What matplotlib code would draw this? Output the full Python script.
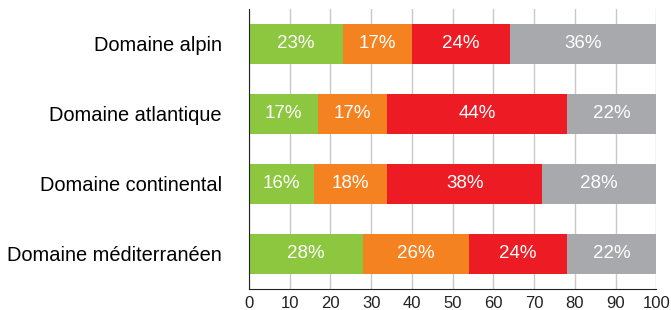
import matplotlib.pyplot as plt
import numpy as np

plt.rcParams['font.family'] = ['Liberation Sans', 'DejaVu Sans']

domaines = ["Domaine alpin", "Domaine atlantique", "Domaine continental", "Domaine méditerranéen"]
vert = [23, 17, 16, 28]
orange = [17, 17, 18, 26]
rouge = [24, 44, 38, 24]
gris = [36, 22, 28, 22]

series = [vert, orange, rouge, gris]
colors = ["#8DC63F", "#F58220", "#ED1C24", "#A7A9AC"]

fig = plt.figure(figsize=(6.71, 3.10), dpi=100)
ax = fig.add_axes([0.371, 0.068, 0.607, 0.903])

y = np.arange(len(domaines))
left = np.zeros(len(domaines))
for vals, c in zip(series, colors):
    bars = ax.barh(y, vals, left=left, height=0.56, color=c, zorder=2)
    for b, v in zip(bars, vals):
        ax.text(b.get_x() + b.get_width() / 2, b.get_y() + b.get_height() / 2,
                f"{v}%", ha="center", va="center", color="white", fontsize=13.5, zorder=3)
    left += np.array(vals)

ax.set_ylim(len(domaines) - 0.5, -0.5)
ax.set_xlim(0, 100)
ax.set_xticks(range(0, 101, 10))
ax.set_yticks(y)
ax.set_yticklabels(domaines, fontsize=14.4)
ax.tick_params(axis="x", labelsize=12, length=0, pad=5, colors="#222222")
ax.tick_params(axis="y", length=0, pad=19.5)
ax.grid(axis="x", color="#C8C8C8", linewidth=1, zorder=0)
for s in ["top", "right"]:
    ax.spines[s].set_visible(False)
ax.spines["left"].set_color("#222222")
ax.spines["bottom"].set_color("#222222")

fig.savefig("out.png", dpi=100)
